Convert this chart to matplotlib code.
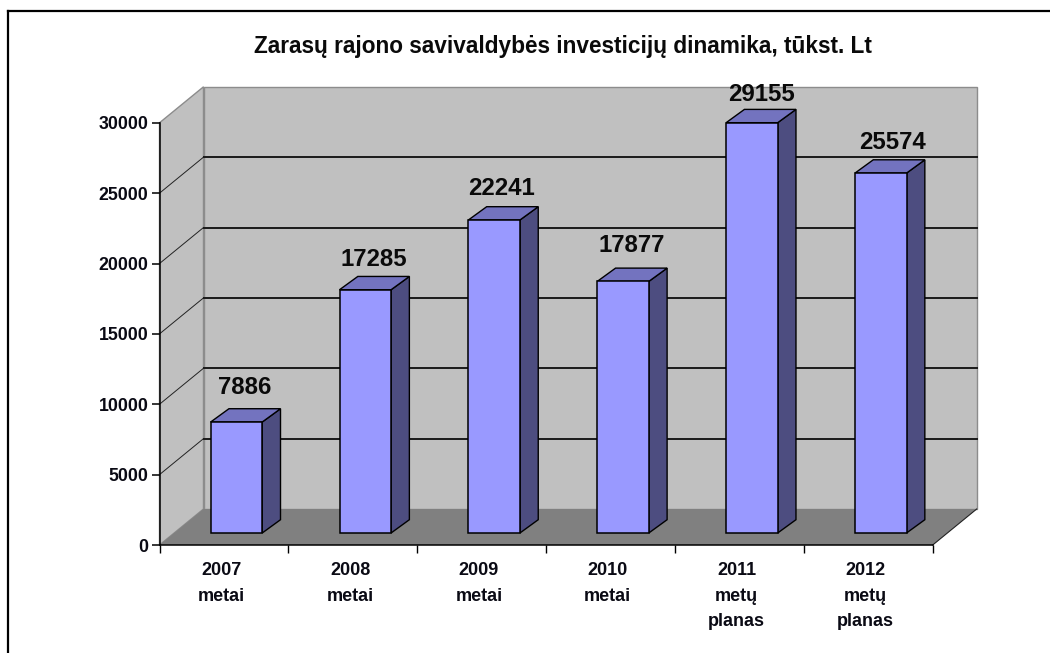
import matplotlib
matplotlib.use("Agg")
import matplotlib.pyplot as plt
from matplotlib.patches import Polygon
from matplotlib.lines import Line2D

plt.rcParams['font.family'] = ['Liberation Sans', 'DejaVu Sans']

title = "Zarasų rajono savivaldybės investicijų dinamika, tūkst. Lt"
categories = ["2007\nmetai", "2008\nmetai", "2009\nmetai", "2010\nmetai",
              "2011\nmetų\nplanas", "2012\nmetų\nplanas"]
values = [7886, 17285, 22241, 17877, 29155, 25574]
y_ticks = [0, 5000, 10000, 15000, 20000, 25000, 30000]

# layout only: label shifts from the bar front-top centre, in pixels
label_dx = [8, 9, 7, 9, 10, 12]
label_dy = [35, 30, 31, 36, 28, 31]

W, H = 1050, 653
fig = plt.figure(figsize=(W / 100, H / 100), dpi=100, facecolor="white")

# Front plane of the 3D box, in pixels of the image
L, R, B, T = 159.5, 932.7, 545.0, 122.8
ax = fig.add_axes([L / W, 1 - B / H, (R - L) / W, (B - T) / H])
ax.set_xlim(0, len(values))
ax.set_ylim(0, 30000)
ax.patch.set_visible(False)
for s in ("top", "right"):
    ax.spines[s].set_visible(False)
for s in ("left", "bottom"):
    ax.spines[s].set_linewidth(1.1)
    ax.spines[s].set_zorder(6)

ux = len(values) / (R - L)   # data units per pixel
uy = 30000 / (B - T)


def dep(x, y, px, py):
    """Point (x, y) pushed back into the box by a pixel depth."""
    return (x + px * ux, y + py * uy)


WALL, FLOOR = "#C0C0C0", "#808080"
FRONT, SIDE, TOP = "#9999FF", "#4D4D80", "#7373BF"
BX, BY = 44, 36       # box depth
n = len(values)

# walls and floor
ax.add_patch(Polygon([dep(0, 0, BX, BY), dep(n, 0, BX, BY), dep(n, 30000, BX, BY), dep(0, 30000, BX, BY)],
                     fc=WALL, ec="#8C8C8C", lw=1.0, clip_on=False, zorder=1))
ax.add_patch(Polygon([(0, 0), dep(0, 0, BX, BY), dep(0, 30000, BX, BY), (0, 30000)],
                     fc=WALL, ec="#8C8C8C", lw=1.0, clip_on=False, zorder=1))
ax.add_patch(Polygon([(0, 0), (n, 0), dep(n, 0, BX, BY), dep(0, 0, BX, BY)],
                     fc=FLOOR, ec="none", clip_on=False, zorder=1.5))
ax.plot(*zip((n, 0), dep(n, 0, BX, BY)), color="#222222", lw=0.8, clip_on=False, zorder=2)

# gridlines on back and side wall
for t in y_ticks[1:-1]:
    ax.plot(*zip((0, t), dep(0, t, BX, BY)), color="#222222", lw=0.7, clip_on=False, zorder=2)
    ax.plot(*zip(dep(0, t, BX, BY), dep(n, t, BX, BY)), color="#1A1A1A", lw=1.4, clip_on=False, zorder=2)

# bars
FX, FY = 12.5, 12.0    # front face depth
SX, SY = 18.3, 13.3    # bar depth
width = 0.4
xs = [i + 0.5 for i in range(n)]
base = FY * uy
ax.bar([x + FX * ux for x in xs], values, width=width, bottom=base,
       color=FRONT, edgecolor="black", linewidth=1.1, zorder=4, clip_on=False)
for x, v, ldx, ldy in zip(xs, values, label_dx, label_dy):
    x0 = x - width / 2 + FX * ux
    x1 = x + width / 2 + FX * ux
    y0, y1 = base, v + base
    ax.add_patch(Polygon([(x1, y0), dep(x1, y0, SX, SY), dep(x1, y1, SX, SY), (x1, y1)],
                         fc=SIDE, ec="black", lw=1.0, clip_on=False, zorder=3.5))
    ax.add_patch(Polygon([(x0, y1), (x1, y1), dep(x1, y1, SX, SY), dep(x0, y1, SX, SY)],
                         fc=TOP, ec="black", lw=1.0, clip_on=False, zorder=3.5))
    ax.annotate(str(v), xy=(x + FX * ux, y1), xytext=(ldx * 0.72, ldy * 0.72),
                textcoords="offset points", ha="center", va="center",
                fontsize=17.3, fontweight="bold", color="#0A0A0A", zorder=7)

# axes ticks and labels
ax.set_yticks(y_ticks)
ax.set_yticklabels([str(t) for t in y_ticks], fontsize=12.8, fontweight="bold", color="#0A0A14")
ax.tick_params(axis="y", length=5.5, width=1.1, pad=2.5)
ax.set_xticks(range(n + 1))
ax.set_xticklabels([""] * (n + 1))
ax.tick_params(axis="x", length=5.5, width=1.0)
for x, c in zip(xs, categories):
    ax.annotate(c, xy=(x, 0), xytext=(-2, -12.2), textcoords="offset points",
                ha="center", va="top", fontsize=13, fontweight="bold",
                color="#0A0A14", linespacing=1.67, annotation_clip=False)

fig.text(562.5 / W, 1 - 46 / H, title, ha="center", va="center",
         fontsize=16.3, fontweight="bold", color="#0A0A0A")

# outer frame (top and left only, the picture is cropped)
fig.add_artist(Line2D([7.5 / W, 7.5 / W], [0, 1 - 10.5 / H], color="black", lw=1.6))
fig.add_artist(Line2D([7.5 / W, 1], [1 - 10.5 / H, 1 - 10.5 / H], color="black", lw=1.6))

fig.savefig("out.png", dpi=100, facecolor="white")
